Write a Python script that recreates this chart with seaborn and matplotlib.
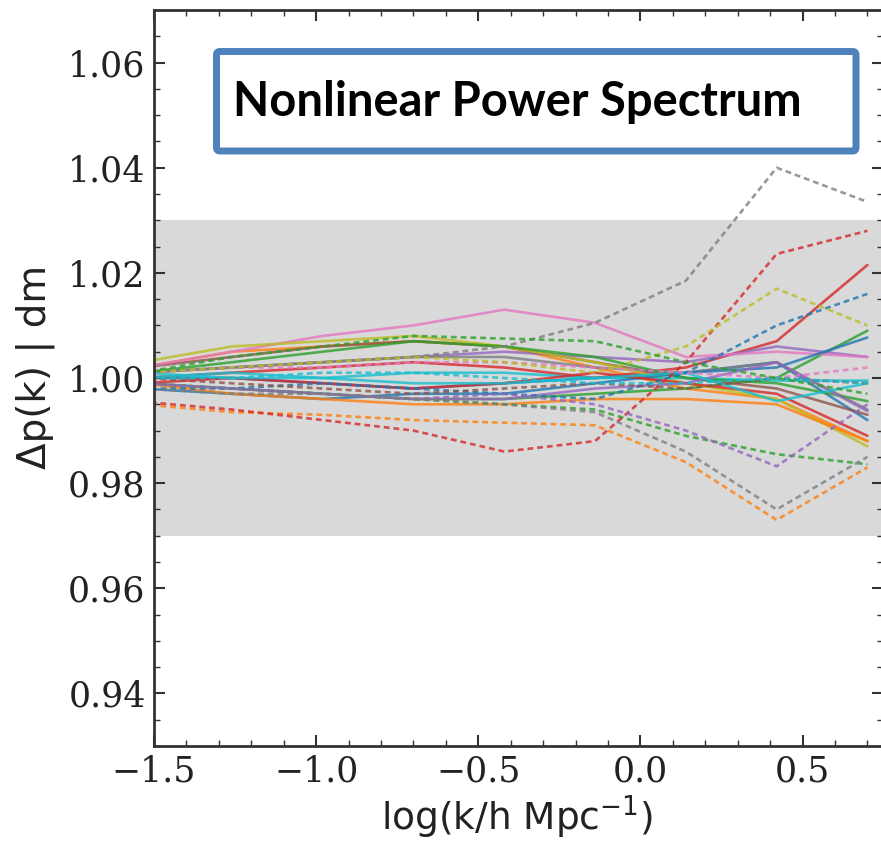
import numpy as np
import pandas as pd
import matplotlib
matplotlib.use("Agg")
import matplotlib.pyplot as plt
from matplotlib.patches import FancyBboxPatch
import seaborn as sns

# ---------------- data ----------------
log_k = [-1.54, -1.26, -0.98, -0.70, -0.42, -0.14, 0.14, 0.42, 0.70]

A_blue   = [1.000, 1.000, 0.999, 0.998, 0.999, 1.000, 1.001, 1.003, 0.992]
A_orange = [1.002, 1.005, 1.006, 1.007, 1.006, 1.002, 0.998, 0.996, 0.988]
A_green  = [0.999, 0.998, 0.997, 0.996, 0.996, 0.997, 0.998, 1.000, 1.009]
A_red    = [1.000, 1.001, 1.002, 1.003, 1.002, 1.000, 1.002, 1.007, 1.0215]
A_purple = [1.001, 1.002, 1.003, 1.004, 1.005, 1.004, 1.003, 1.006, 1.004]
A_brown  = [1.002, 1.004, 1.006, 1.007, 1.006, 1.003, 1.000, 0.998, 0.993]
A_pink   = [1.002, 1.005, 1.008, 1.010, 1.013, 1.0105, 1.004, 1.005, 1.004]
A_gray   = [1.001, 1.002, 1.003, 1.004, 1.004, 1.002, 1.001, 1.003, 0.994]
A_olive  = [1.003, 1.006, 1.007, 1.008, 1.006, 1.003, 0.999, 0.996, 0.987]
A_cyan   = [1.000, 1.001, 1.000, 1.001, 1.001, 1.000, 1.000, 0.9995, 0.9995]

B_blue   = [0.998, 0.997, 0.996, 0.997, 0.997, 0.999, 1.001, 1.002, 1.0077]
B_orange = [0.999, 0.997, 0.996, 0.995, 0.995, 0.996, 0.996, 0.995, 0.988]
B_green  = [1.001, 1.003, 1.005, 1.007, 1.006, 1.004, 1.000, 0.999, 0.9956]
B_red    = [0.999, 1.000, 0.999, 0.998, 0.999, 1.001, 0.999, 0.997, 0.989]
B_purple = [0.999, 0.998, 0.997, 0.996, 0.996, 0.998, 0.999, 1.003, 0.9937]
B_cyan   = [1.001, 1.000, 1.000, 0.999, 0.999, 1.000, 1.001, 0.9956, 0.999]

D_blue   = [0.998, 0.998, 0.999, 0.998, 0.997, 0.996, 1.001, 1.010, 1.016]
D_orange = [0.995, 0.9935, 0.993, 0.992, 0.9915, 0.991, 0.984, 0.973, 0.983]
D_green  = [0.999, 0.998, 0.997, 0.996, 0.995, 0.994, 0.989, 0.9855, 0.9836]
D_red    = [0.9955, 0.994, 0.992, 0.990, 0.986, 0.988, 1.003, 1.0236, 1.028]
D_purple = [0.999, 0.998, 0.997, 0.996, 0.997, 0.995, 0.990, 0.9832, 0.995]
D_brown  = [1.000, 0.999, 0.998, 0.997, 0.998, 0.999, 0.998, 1.000, 0.999]
D_pink   = [1.001, 1.002, 1.002, 1.003, 1.003, 1.002, 1.001, 1.000, 1.002]
D_gray   = [1.001, 1.002, 1.003, 1.004, 1.006, 1.0105, 1.0185, 1.040, 1.0335]
D_olive  = [1.001, 1.002, 1.003, 1.004, 1.003, 1.001, 1.006, 1.017, 1.010]
D_cyan   = [1.000, 1.000, 1.001, 1.001, 1.000, 0.999, 0.999, 1.000, 0.999]
D2_gray  = [0.998, 0.997, 0.997, 0.996, 0.995, 0.9935, 0.986, 0.975, 0.985]
D2_green = [1.001, 1.004, 1.006, 1.008, 1.0075, 1.007, 1.003, 1.000, 0.997]

band_low, band_high = 0.97, 1.03
y_ticks = [0.94, 0.96, 0.98, 1.00, 1.02, 1.04, 1.06]
x_ticks = [-1.5, -1.0, -0.5, 0.0, 0.5]
title_text = "Nonlinear Power Spectrum"
x_label = r"log(k/h Mpc$^{-1}$)"
y_label = "Δp(k) | dm"

series = {
    "A_blue": (A_blue, "tab:blue", "-"), "A_orange": (A_orange, "tab:orange", "-"),
    "A_green": (A_green, "tab:green", "-"), "A_red": (A_red, "tab:red", "-"),
    "A_purple": (A_purple, "tab:purple", "-"), "A_brown": (A_brown, "tab:brown", "-"),
    "A_pink": (A_pink, "tab:pink", "-"), "A_gray": (A_gray, "tab:gray", "-"),
    "A_olive": (A_olive, "tab:olive", "-"), "A_cyan": (A_cyan, "tab:cyan", "-"),
    "B_blue": (B_blue, "tab:blue", "-"), "B_orange": (B_orange, "tab:orange", "-"),
    "B_green": (B_green, "tab:green", "-"), "B_red": (B_red, "tab:red", "-"),
    "B_purple": (B_purple, "tab:purple", "-"), "B_cyan": (B_cyan, "tab:cyan", "-"),
    "D_blue": (D_blue, "tab:blue", "--"), "D_orange": (D_orange, "tab:orange", "--"),
    "D_green": (D_green, "tab:green", "--"), "D_red": (D_red, "tab:red", "--"),
    "D_purple": (D_purple, "tab:purple", "--"), "D_brown": (D_brown, "tab:brown", "--"),
    "D_pink": (D_pink, "tab:pink", "--"), "D_gray": (D_gray, "tab:gray", "--"),
    "D_olive": (D_olive, "tab:olive", "--"), "D_cyan": (D_cyan, "tab:cyan", "--"),
    "D2_gray": (D2_gray, "tab:gray", "--"), "D2_green": (D2_green, "tab:green", "--"),
}

rows = []
for name, (vals, col, ls) in series.items():
    for xv, yv in zip(log_k, vals):
        rows.append({"log_k": xv, "ratio": yv, "series": name})
df = pd.DataFrame(rows)
palette = {n: v[1] for n, v in series.items()}
dashes = {n: ("" if v[2] == "-" else (2.2, 1.5)) for n, v in series.items()}

# ---------------- figure ----------------
sns.set_style("ticks")
plt.rcParams["font.family"] = ["DejaVu Sans"]

W, H = 881, 843
fig = plt.figure(figsize=(W / 100, H / 100), dpi=100)
ax_left, ax_right, ax_top, ax_bottom = 154, 883, 10, 746
ax = fig.add_axes([ax_left / W, 1 - ax_bottom / H, (ax_right - ax_left) / W,
                   (ax_bottom - ax_top) / H])

ax.axhspan(band_low, band_high, color="#d9d9d9", lw=0, zorder=0)

sns.lineplot(data=df, x="log_k", y="ratio", hue="series", style="series",
             palette=palette, dashes=dashes, estimator=None, sort=False,
             legend=False, linewidth=1.9, alpha=0.8, ax=ax)

ax.set_xlim(-1.5, 0.748)
ax.set_ylim(0.93, 1.07)
ax.set_xticks(x_ticks)
ax.set_yticks(y_ticks)
ax.set_xticks(np.arange(-1.5, 0.75, 0.1), minor=True)
ax.set_yticks(np.arange(0.93, 1.0701, 0.005), minor=True)
ax.set_xticklabels([f"{t:.1f}".replace("-", "\u2212") for t in x_ticks],
                   family="DejaVu Serif", fontsize=25)
ax.set_yticklabels([f"{t:.2f}" for t in y_ticks], family="DejaVu Serif", fontsize=25)
ax.tick_params(which="both", direction="in", top=True, right=True, colors="#333333",
               labelcolor="#222222")
ax.tick_params(which="major", length=8, width=1.5, pad=6)
ax.tick_params(which="minor", length=4, width=1.0)
for sp in ax.spines.values():
    sp.set_linewidth(2.0)
    sp.set_color("#333333")

ax.set_xlabel(x_label, fontsize=27, color="#222222")
ax.set_ylabel(y_label, fontsize=28, color="#222222")
axw = ax_right - ax_left
axh = ax_bottom - ax_top
ax.xaxis.label.set_va("bottom")
ax.xaxis.set_label_coords((517 - ax_left) / axw, -(841 - ax_bottom) / axh)
ax.yaxis.set_label_coords((55 - ax_left) / axw, (ax_bottom - 367) / axh)

# title box
box = FancyBboxPatch((216.5 / W, 1 - 151 / H), (856 - 216.5) / W, (151 - 51.5) / H,
                     boxstyle="round,pad=0,rounding_size=0.004", transform=fig.transFigure,
                     facecolor="white", edgecolor="#4F81BD", linewidth=5.0, zorder=10)
fig.patches.append(box)
t = fig.text(233 / W, 1 - 101.5 / H, title_text, family="Lato", fontweight="bold",
             fontsize=36, color="black", ha="left", va="center", zorder=11)
fig.canvas.draw()
w = t.get_window_extent(fig.canvas.get_renderer()).width
t.set_fontsize(36 * 567 / w)

fig.savefig("out.png", dpi=100)
